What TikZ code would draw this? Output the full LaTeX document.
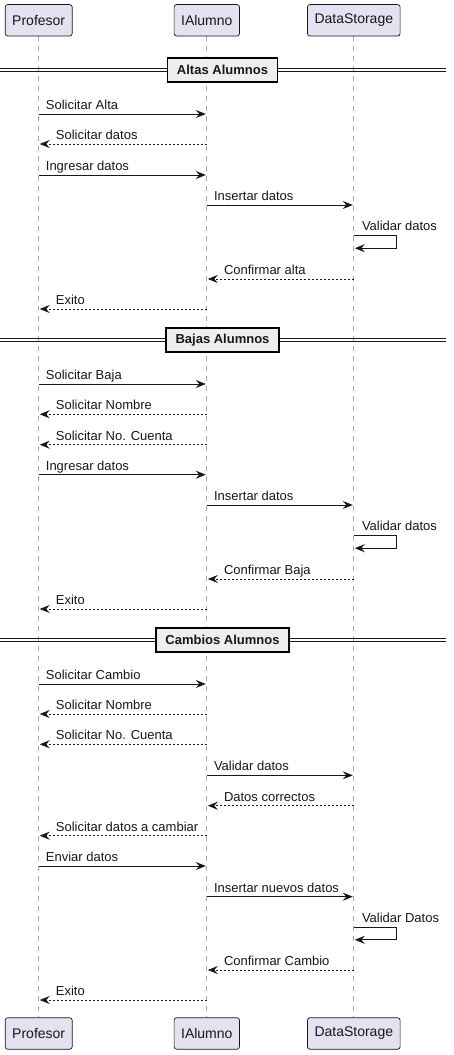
\documentclass[tikz,border=0pt]{standalone}
\usepackage{fontspec}
\setmainfont{Liberation Sans}
\usetikzlibrary{arrows.meta}
\definecolor{partfill}{HTML}{E2E2F0}
\definecolor{partdraw}{HTML}{181818}
\definecolor{lifegray}{HTML}{A8A8A8}
\definecolor{divfill}{HTML}{EEEEEE}
\definecolor{ink}{HTML}{181818}
\tikzset{
  part/.style={draw=partdraw, fill=partfill, line width=0.7pt, rounded corners=2.5pt,
    minimum height=31.5pt, inner xsep=7pt, inner ysep=0pt, font=\fontsize{14}{16}\selectfont, text=ink},
  lifeline/.style={draw=lifegray, line width=1.1pt, dash pattern=on 5pt off 5pt},
  divbox/.style={draw=black, fill=divfill, line width=1.6pt, minimum height=24pt, inner xsep=9.5pt,
    inner ysep=0pt, font=\bfseries\fontsize{13}{15}\selectfont, text=ink},
  divline/.style={draw=ink, line width=0.9pt},
  tip/.style={-{Stealth[length=10pt,width=8pt,inset=3.5pt]}},
  msgline/.style={draw=ink, line width=1pt, tip, shorten >=1pt},
  retline/.style={draw=ink, line width=1pt, tip, shorten >=1pt, dash pattern=on 2pt off 2pt},
  lbl/.style={anchor=base west, inner sep=0pt, font=\fontsize{13}{15}\selectfont, text=ink},
}
% #1 name, #2 from x, #3 to x, #4 y, #5 label
\newcommand\rmsg[5]{%
  \coordinate (#1a) at (#2,#4); \coordinate (#1b) at (#3,#4);
  \draw[msgline] (#1a) -- (#1b);
  \node[lbl] (#1l) at (#2+7,#4-4.5) {#5};}
\newcommand\lmsg[5]{%
  \coordinate (#1a) at (#2,#4); \coordinate (#1b) at (#3,#4);
  \draw[retline] (#1a) -- (#1b);
  \node[lbl] (#1l) at (#3+17,#4-4.5) {#5};}
% self message: #1 name, #2 x, #3 y, #4 label
\newcommand\smsg[4]{%
  \coordinate (#1a) at (#2,#3); \coordinate (#1c) at (396,#3);
  \coordinate (#1d) at (396,#3+12.5); \coordinate (#1b) at (#2,#3+12.5);
  \draw[msgline] (#1a) -- (#1c) -- (#1d) -- (#1b);
  \node[lbl] (#1l) at (#2+8,#3-5) {#4};}
% divider: #1 name, #2 y, #3 text
\newcommand\divider[3]{%
  \coordinate (#1L) at (0,#2); \coordinate (#1R) at (446,#2);
  \draw[divline] ([yshift=1.5pt]#1L) -- ([yshift=1.5pt]#1R);
  \draw[divline] ([yshift=-1.5pt]#1L) -- ([yshift=-1.5pt]#1R);
  \node[divbox] (#1) at (222.5,#2) {#3};}
\begin{document}
\begin{tikzpicture}[x=1pt,y=-1pt]
\useasboundingbox (0,0) rectangle (453,1055);
\fill[white] (0,0) rectangle (453,1055);
% lifelines
\coordinate (Ptop) at (38.7,36); \coordinate (Pbot) at (38.7,1017.5);
\coordinate (Atop) at (206.8,36); \coordinate (Abot) at (206.8,1017.5);
\coordinate (Dtop) at (353.8,36); \coordinate (Dbot) at (353.8,1017.5);
\draw[lifeline] (Ptop) -- (Pbot);
\draw[lifeline] (Atop) -- (Abot);
\draw[lifeline] (Dtop) -- (Dbot);
% participants
\node[part] (pT) at (38.7,20.3) {Profesor};
\node[part] (aT) at (206.8,20.3) {IAlumno};
\node[part] (dT) at (353.8,20.3) {DataStorage};
\node[part] (pB) at (38.7,1033.5) {Profesor};
\node[part] (aB) at (206.8,1033.5) {IAlumno};
\node[part] (dB) at (353.8,1033.5) {DataStorage};
\def\P{38.7}\def\A{206.8}\def\D{353.8}
% Altas
\divider{dv1}{70}{Altas Alumnos}
\rmsg{m1}{\P}{\A}{114}{Solicitar Alta}
\lmsg{m2}{\A}{\P}{144}{Solicitar datos}
\rmsg{m3}{\P}{\A}{175}{Ingresar datos}
\rmsg{m4}{\A}{\D}{205}{Insertar datos}
\smsg{m5}{\D}{235.7}{Validar datos}
\lmsg{m6}{\D}{\A}{279}{Confirmar alta}
\lmsg{m7}{\A}{\P}{309}{Exito}
% Bajas
\divider{dv2}{340}{Bajas Alumnos}
\rmsg{n1}{\P}{\A}{384}{Solicitar Baja}
\lmsg{n2}{\A}{\P}{414.3}{Solicitar Nombre}
\lmsg{n3}{\A}{\P}{444.7}{Solicitar No. Cuenta}
\rmsg{n4}{\P}{\A}{474.7}{Ingresar datos}
\rmsg{n5}{\A}{\D}{505}{Insertar datos}
\smsg{n6}{\D}{535.7}{Validar datos}
\lmsg{n7}{\D}{\A}{579}{Confirmar Baja}
\lmsg{n8}{\A}{\P}{609}{Exito}
% Cambios
\divider{dv3}{640}{Cambios Alumnos}
\rmsg{k1}{\P}{\A}{684}{Solicitar Cambio}
\lmsg{k2}{\A}{\P}{714}{Solicitar Nombre}
\lmsg{k3}{\A}{\P}{744.3}{Solicitar No. Cuenta}
\rmsg{k4}{\A}{\D}{775.3}{Validar datos}
\lmsg{k5}{\D}{\A}{805.7}{Datos correctos}
\lmsg{k6}{\A}{\P}{835.7}{Solicitar datos a cambiar}
\rmsg{k7}{\P}{\A}{866}{Enviar datos}
\rmsg{k8}{\A}{\D}{896.7}{Insertar nuevos datos}
\smsg{k9}{\D}{927.3}{Validar Datos}
\lmsg{k10}{\D}{\A}{970}{Confirmar Cambio}
\lmsg{k11}{\A}{\P}{1000}{Exito}
\end{tikzpicture}
\end{document}
